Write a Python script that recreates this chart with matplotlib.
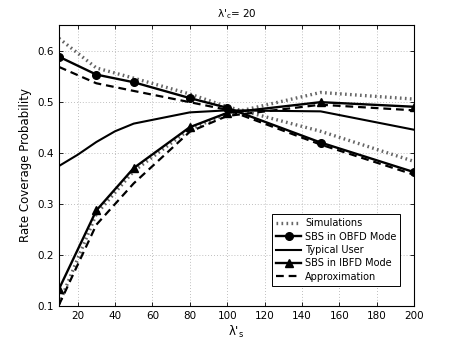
import numpy as np
import matplotlib
matplotlib.use("Agg")
import matplotlib.pyplot as plt

# lambda'_s values
lam_markers = [10, 30, 50, 80, 100, 150, 200]
lam_user = [10, 20, 30, 40, 50, 80, 100, 150, 200]

# simulations (dotted), one curve per SBS mode
sim_obfd = [0.624, 0.566, 0.546, 0.515, 0.490, 0.442, 0.383]
sim_ibfd = [0.104, 0.280, 0.364, 0.446, 0.476, 0.518, 0.505]

# analytical curves
obfd = [0.588, 0.553, 0.538, 0.507, 0.488, 0.420, 0.362]
ibfd = [0.133, 0.287, 0.370, 0.450, 0.478, 0.499, 0.490]
user = [0.374, 0.396, 0.421, 0.442, 0.457, 0.479, 0.483, 0.481, 0.445]

# approximations (dashed)
approx_obfd = [0.568, 0.536, 0.521, 0.499, 0.484, 0.416, 0.357]
approx_ibfd = [0.102, 0.259, 0.340, 0.441, 0.472, 0.494, 0.483]

plt.rcParams['font.family'] = ['DejaVu Sans']
fig = plt.figure(figsize=(4.57, 3.43), dpi=100)
ax = fig.add_axes([0.129, 0.108, 0.777, 0.819])

sim_kw = dict(color='#666666', linestyle=(0, (0.5, 1.0)), linewidth=2.4)
ax.plot(lam_markers, sim_obfd, label='Simulations', **sim_kw)
ax.plot(lam_markers, sim_ibfd, **sim_kw)

ax.plot(lam_markers, obfd, 'k-', marker='o', markersize=5.5, linewidth=1.7,
        label='SBS in OBFD Mode')
ax.plot(lam_user, user, 'k-', linewidth=1.5, label='Typical User')
ax.plot(lam_markers, ibfd, 'k-', marker='^', markersize=6, linewidth=1.7,
        label='SBS in IBFD Mode')

dash_kw = dict(color='k', linestyle=(0, (3.5, 2.2)), linewidth=1.6)
ax.plot(lam_markers, approx_obfd, label='Approximation', **dash_kw)
ax.plot(lam_markers, approx_ibfd, **dash_kw)

ax.set_xlim(10, 200)
ax.set_ylim(0.1, 0.65)
ax.set_xticks(np.arange(20, 201, 20))
ax.set_yticks([0.1, 0.2, 0.3, 0.4, 0.5, 0.6])
ax.tick_params(direction='in', top=True, right=True, labelsize=7.5, length=3,
               width=0.6)
ax.grid(True, linestyle=(0, (1, 2.5)), color='#aaaaaa', linewidth=0.6)
for s in ax.spines.values():
    s.set_linewidth(0.8)

ax.set_xlabel("λ'$_\\mathregular{s}$", fontsize=8.5, labelpad=2)
ax.set_ylabel('Rate Coverage Probability', fontsize=8.5, labelpad=4)
ax.set_title("λ'$_\\mathregular{c}$= 20", fontsize=7.5, pad=6)

leg = ax.legend(loc='lower right', bbox_to_anchor=(0.975, 0.055), fontsize=7,
                fancybox=False, framealpha=1, edgecolor='k',
                handlelength=2.6, borderpad=0.4, labelspacing=0.35,
                handletextpad=0.4)
leg.get_frame().set_linewidth(0.7)

fig.savefig('out.png', dpi=100)
